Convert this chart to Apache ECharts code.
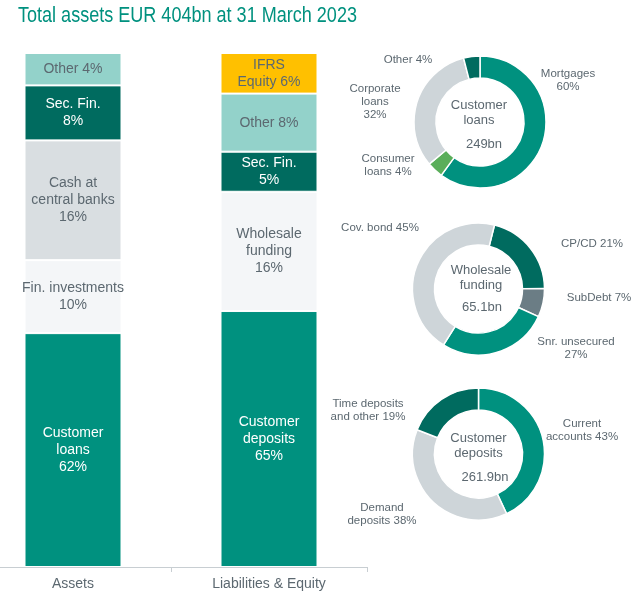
<!DOCTYPE html>
<html><head><meta charset="utf-8">
<script src="https://cdn.jsdelivr.net/npm/echarts@6/dist/echarts.min.js"></script>
<style>html,body{margin:0;padding:0;background:#fff}#c{width:640px;height:598px}</style>
</head><body><div id="c"></div>
<script>
// ---------- DATA ----------
const chartTitle = 'Total assets EUR 404bn at 31 March 2023';
const barCategories = ['Assets', 'Liabilities & Equity'];

// Assets, bottom to top
const assetLabels = ['Customer\nloans\n{p}%', 'Fin. investments\n{p}%', 'Cash at\ncentral banks\n{p}%', 'Sec. Fin.\n{p}%', 'Other {p}%'];
const assetPct = [62, 10, 16, 8, 4];
const assetHeights = [45.5, 14.2, 23.3, 10.7, 6.3];   // drawn share of the bar

// Liabilities & Equity, bottom to top
const liabLabels = ['Customer\ndeposits\n{p}%', 'Wholesale\nfunding\n{p}%', 'Sec. Fin.\n{p}%', 'Other {p}%', 'IFRS\nEquity {p}%'];
const liabPct = [65, 16, 5, 8, 6];
const liabHeights = [49.8, 23.2, 7.8, 11.3, 7.9];

// Donut 1: Customer loans
const loanNames = ['Mortgages', 'Consumer loans', 'Corporate loans', 'Other'];
const loanLabels = ['Mortgages\n{p}%', 'Consumer\nloans {p}%', 'Corporate\nloans\n{p}%', 'Other {p}%'];
const loanPct = [60, 4, 32, 4];
const loanCenter = ['Customer\nloans', '249bn'];

// Donut 2: Wholesale funding
const wholesaleNames = ['CP/CD', 'SubDebt', 'Snr. unsecured', 'Cov. bond'];
const wholesaleLabels = ['CP/CD {p}%', 'SubDebt {p}%', 'Snr. unsecured\n{p}%', 'Cov. bond {p}%'];
const wholesalePct = [21, 7, 27, 45];
const wholesaleCenter = ['Wholesale\nfunding', '65.1bn'];

// Donut 3: Customer deposits
const depositNames = ['Current accounts', 'Demand deposits', 'Time deposits and other'];
const depositLabels = ['Current\naccounts {p}%', 'Demand\ndeposits {p}%', 'Time deposits\nand other {p}%'];
const depositPct = [43, 38, 19];
const depositCenter = ['Customer\ndeposits', '261.9bn'];

// ---------- STYLE ----------
const TEAL = '#00917F', DARK = '#006B5F', LTEAL = '#93D2CA', GRAY = '#D9DEE1', PALE = '#F4F6F8',
      AMBER = '#FFC000', GREEN = '#5AAE5A', SLATE = '#6B7D85', DGRAY = '#CED5D9', TXT = '#5C6870';
const assetColors = [TEAL, PALE, GRAY, DARK, LTEAL];
const assetText = ['#fff', TXT, TXT, '#fff', TXT];
const liabColors = [TEAL, PALE, DARK, LTEAL, AMBER];
const liabText = ['#fff', TXT, '#fff', TXT, TXT];
const FONT = 'Liberation Sans, Arial, sans-serif';

const donuts = [
  { names: loanNames, labels: loanLabels, pct: loanPct, colors: [TEAL, GREEN, DGRAY, DARK], center: [480, 122], start: 90,
    pos: [[568, 80], [388, 165], [375, 102], [408, 60]], ctext: loanCenter, cy: [113, 144], cx: [479, 484] },
  { names: wholesaleNames, labels: wholesaleLabels, pct: wholesalePct, colors: [DARK, SLATE, TEAL, DGRAY], center: [478.5, 289], start: 76,
    pos: [[592, 244], [599, 298], [576, 348], [380, 228]], ctext: wholesaleCenter, cy: [278, 307], cx: [481, 482] },
  { names: depositNames, labels: depositLabels, pct: depositPct, colors: [TEAL, DGRAY, DARK], center: [478.5, 454], start: 90,
    pos: [[582, 430], [382, 514], [368, 410]], ctext: depositCenter, cy: [445.5, 477], cx: [478.5, 485] }
];

const series = [];
assetHeights.forEach((h, i) => series.push({
  type: 'bar', stack: 'bs', barWidth: 97, data: [h, '-'],
  itemStyle: { color: assetColors[i], borderColor: '#fff', borderWidth: 1 },
  label: { show: true, position: 'inside', formatter: assetLabels[i].replace('{p}', assetPct[i]),
    color: assetText[i], fontSize: 14, lineHeight: 17, fontFamily: FONT, textBorderWidth: 0 },
  emphasis: { disabled: true }
}));
liabHeights.forEach((h, i) => series.push({
  type: 'bar', stack: 'bs', barWidth: 97, data: ['-', h],
  itemStyle: { color: liabColors[i], borderColor: '#fff', borderWidth: 1 },
  label: { show: true, position: 'inside', formatter: liabLabels[i].replace('{p}', liabPct[i]),
    color: liabText[i], fontSize: 14, lineHeight: 17, fontFamily: FONT, textBorderWidth: 0 },
  emphasis: { disabled: true }
}));

const graphic = [{
  type: 'text', x: 18, y: 16, scaleX: 0.82,
  style: { text: chartTitle, fill: TEAL, font: '22px ' + FONT, align: 'left', verticalAlign: 'middle' }
}];

donuts.forEach((d) => {
  series.push({
    type: 'pie', radius: [44, 66], center: d.center, startAngle: d.start, clockwise: true,
    avoidLabelOverlap: false, silent: true,
    itemStyle: { borderColor: '#fff', borderWidth: 1.5 },
    label: { show: true, position: 'outside', color: TXT, fontSize: 11.5, lineHeight: 13, fontFamily: FONT,
      formatter: (p) => d.labels[p.dataIndex].replace('{p}', d.pct[p.dataIndex]) },
    labelLine: { show: false },
    labelLayout: (p) => ({ x: d.pos[p.dataIndex][0], y: d.pos[p.dataIndex][1], align: 'center', verticalAlign: 'middle' }),
    data: d.names.map((n, i) => ({ name: n, value: d.pct[i], itemStyle: { color: d.colors[i] } }))
  });
  graphic.push({ type: 'text', x: d.cx[0], y: d.cy[0],
    style: { text: d.ctext[0], fill: TXT, font: '13px ' + FONT, lineHeight: 15, align: 'center', verticalAlign: 'middle' } });
  graphic.push({ type: 'text', x: d.cx[1], y: d.cy[1],
    style: { text: d.ctext[1], fill: TXT, font: '13px ' + FONT, align: 'center', verticalAlign: 'middle' } });
});

const chart = echarts.init(document.getElementById('c'), null, { renderer: 'canvas' });
chart.setOption({
  animation: false,
  backgroundColor: '#fff',
  textStyle: { fontFamily: FONT },
  grid: { left: -25, width: 392, top: 53, bottom: 31, containLabel: false, outerBoundsMode: 'none' },
  xAxis: {
    type: 'category', data: barCategories,
    axisLine: { show: true, lineStyle: { color: '#C8CED2', width: 1 } },
    axisTick: { show: true, length: 5, lineStyle: { color: '#C8CED2' } },
    axisLabel: { color: TXT, fontSize: 14, margin: 10, fontFamily: FONT }
  },
  yAxis: { type: 'value', min: 0, max: 100, show: false, splitLine: { show: false } },
  series: series,
  graphic: graphic
});
</script>
</body></html>
